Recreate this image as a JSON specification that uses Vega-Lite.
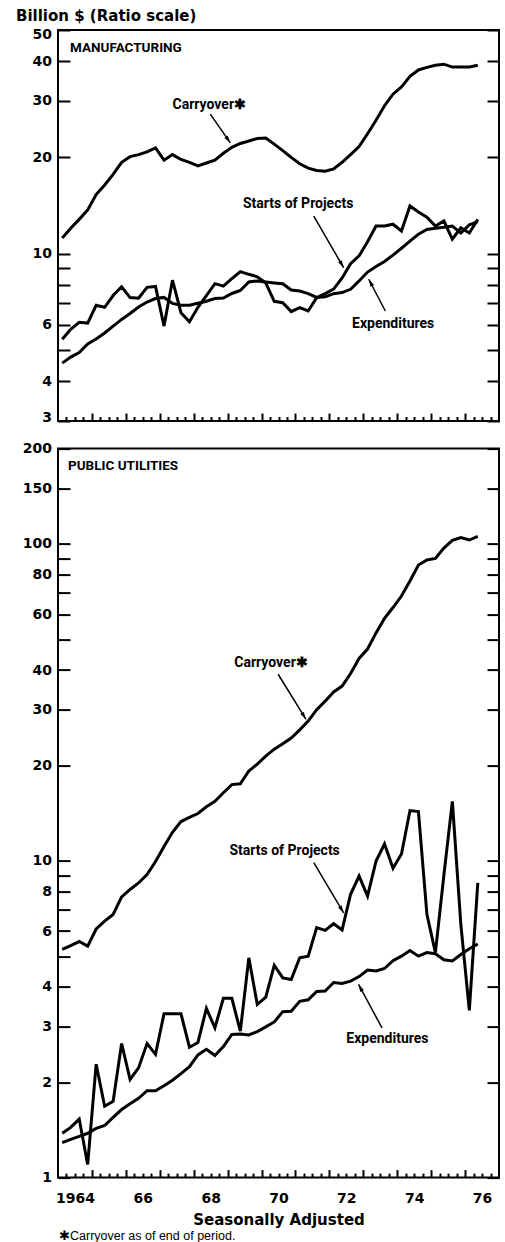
{
  "$schema": "https://vega.github.io/schema/vega-lite/v6.json",
  "background": "white",
  "padding": {"left": 14, "top": 7, "right": 4, "bottom": 0},
  "bounds": "flush",
  "spacing": 27.6,
  "config": {
    "view": {"stroke": "black", "strokeWidth": 2},
    "axis": {"domain": false, "grid": false, "tickColor": "black", "tickWidth": 2, "labelColor": "black", "labelFont": "DejaVu Sans", "labelFontWeight": "bold", "labelFontSize": 14, "labelOverlap": false, "titleColor": "black", "titleFont": "DejaVu Sans", "titleFontWeight": "bold", "titleFontSize": 15}
  },
  "datasets": {
    "top": [
      {"t":1964.125,"s":"C","v":11.2},{"t":1964.375,"s":"C","v":12.0},{"t":1964.625,"s":"C","v":12.8},{"t":1964.875,"s":"C","v":13.7},
      {"t":1965.125,"s":"C","v":15.3},{"t":1965.375,"s":"C","v":16.4},{"t":1965.625,"s":"C","v":17.7},{"t":1965.875,"s":"C","v":19.3},
      {"t":1966.125,"s":"C","v":20.1},{"t":1966.375,"s":"C","v":20.4},{"t":1966.625,"s":"C","v":20.8},{"t":1966.875,"s":"C","v":21.4},
      {"t":1967.125,"s":"C","v":19.6},{"t":1967.375,"s":"C","v":20.4},{"t":1967.625,"s":"C","v":19.7},{"t":1967.875,"s":"C","v":19.3},
      {"t":1968.125,"s":"C","v":18.8},{"t":1968.375,"s":"C","v":19.2},{"t":1968.625,"s":"C","v":19.6},{"t":1968.875,"s":"C","v":20.6},
      {"t":1969.125,"s":"C","v":21.5},{"t":1969.375,"s":"C","v":22.1},{"t":1969.625,"s":"C","v":22.5},{"t":1969.875,"s":"C","v":22.9},
      {"t":1970.125,"s":"C","v":23.0},{"t":1970.375,"s":"C","v":22.0},{"t":1970.625,"s":"C","v":21.0},{"t":1970.875,"s":"C","v":20.0},
      {"t":1971.125,"s":"C","v":19.1},{"t":1971.375,"s":"C","v":18.5},{"t":1971.625,"s":"C","v":18.2},{"t":1971.875,"s":"C","v":18.1},
      {"t":1972.125,"s":"C","v":18.4},{"t":1972.375,"s":"C","v":19.3},{"t":1972.625,"s":"C","v":20.4},{"t":1972.875,"s":"C","v":21.6},
      {"t":1973.125,"s":"C","v":23.7},{"t":1973.375,"s":"C","v":26.1},{"t":1973.625,"s":"C","v":29.0},{"t":1973.875,"s":"C","v":31.5},
      {"t":1974.125,"s":"C","v":33.2},{"t":1974.375,"s":"C","v":35.8},{"t":1974.625,"s":"C","v":37.5},{"t":1974.875,"s":"C","v":38.2},
      {"t":1975.125,"s":"C","v":38.8},{"t":1975.375,"s":"C","v":39.1},{"t":1975.625,"s":"C","v":38.3},{"t":1975.875,"s":"C","v":38.3},
      {"t":1976.125,"s":"C","v":38.3},{"t":1976.375,"s":"C","v":38.8},
      {"t":1964.125,"s":"S","v":5.4},{"t":1964.375,"s":"S","v":5.8},{"t":1964.625,"s":"S","v":6.1},{"t":1964.875,"s":"S","v":6.07},
      {"t":1965.125,"s":"S","v":6.9},{"t":1965.375,"s":"S","v":6.8},{"t":1965.625,"s":"S","v":7.4},{"t":1965.875,"s":"S","v":7.88},
      {"t":1966.125,"s":"S","v":7.29},{"t":1966.375,"s":"S","v":7.26},{"t":1966.625,"s":"S","v":7.85},{"t":1966.875,"s":"S","v":7.9},
      {"t":1967.125,"s":"S","v":5.94},{"t":1967.375,"s":"S","v":8.26},{"t":1967.625,"s":"S","v":6.54},{"t":1967.875,"s":"S","v":6.13},
      {"t":1968.125,"s":"S","v":6.8},{"t":1968.375,"s":"S","v":7.4},{"t":1968.625,"s":"S","v":8.06},{"t":1968.875,"s":"S","v":7.92},
      {"t":1969.125,"s":"S","v":8.35},{"t":1969.375,"s":"S","v":8.79},{"t":1969.625,"s":"S","v":8.62},{"t":1969.875,"s":"S","v":8.47},
      {"t":1970.125,"s":"S","v":8.1},{"t":1970.375,"s":"S","v":7.1},{"t":1970.625,"s":"S","v":7.03},{"t":1970.875,"s":"S","v":6.59},
      {"t":1971.125,"s":"S","v":6.78},{"t":1971.375,"s":"S","v":6.62},{"t":1971.625,"s":"S","v":7.29},{"t":1971.875,"s":"S","v":7.5},
      {"t":1972.125,"s":"S","v":7.75},{"t":1972.375,"s":"S","v":8.4},{"t":1972.625,"s":"S","v":9.3},{"t":1972.875,"s":"S","v":9.84},
      {"t":1973.125,"s":"S","v":10.9},{"t":1973.375,"s":"S","v":12.2},{"t":1973.625,"s":"S","v":12.2},{"t":1973.875,"s":"S","v":12.36},
      {"t":1974.125,"s":"S","v":11.77},{"t":1974.375,"s":"S","v":14.1},{"t":1974.625,"s":"S","v":13.5},{"t":1974.875,"s":"S","v":13.0},
      {"t":1975.125,"s":"S","v":12.2},{"t":1975.375,"s":"S","v":12.65},{"t":1975.625,"s":"S","v":11.1},{"t":1975.875,"s":"S","v":12.05},
      {"t":1976.125,"s":"S","v":11.6},{"t":1976.375,"s":"S","v":12.8},
      {"t":1964.125,"s":"E","v":4.55},{"t":1964.375,"s":"E","v":4.75},{"t":1964.625,"s":"E","v":4.91},{"t":1964.875,"s":"E","v":5.22},
      {"t":1965.125,"s":"E","v":5.41},{"t":1965.375,"s":"E","v":5.65},{"t":1965.625,"s":"E","v":5.94},{"t":1965.875,"s":"E","v":6.23},
      {"t":1966.125,"s":"E","v":6.5},{"t":1966.375,"s":"E","v":6.81},{"t":1966.625,"s":"E","v":7.06},{"t":1966.875,"s":"E","v":7.24},
      {"t":1967.125,"s":"E","v":7.3},{"t":1967.375,"s":"E","v":6.99},{"t":1967.625,"s":"E","v":6.9},{"t":1967.875,"s":"E","v":6.9},
      {"t":1968.125,"s":"E","v":7.0},{"t":1968.375,"s":"E","v":7.1},{"t":1968.625,"s":"E","v":7.24},{"t":1968.875,"s":"E","v":7.27},
      {"t":1969.125,"s":"E","v":7.51},{"t":1969.375,"s":"E","v":7.67},{"t":1969.625,"s":"E","v":8.16},{"t":1969.875,"s":"E","v":8.22},
      {"t":1970.125,"s":"E","v":8.16},{"t":1970.375,"s":"E","v":8.1},{"t":1970.625,"s":"E","v":8.05},{"t":1970.875,"s":"E","v":7.7},
      {"t":1971.125,"s":"E","v":7.64},{"t":1971.375,"s":"E","v":7.5},{"t":1971.625,"s":"E","v":7.3},{"t":1971.875,"s":"E","v":7.33},
      {"t":1972.125,"s":"E","v":7.5},{"t":1972.375,"s":"E","v":7.56},{"t":1972.625,"s":"E","v":7.74},{"t":1972.875,"s":"E","v":8.22},
      {"t":1973.125,"s":"E","v":8.76},{"t":1973.375,"s":"E","v":9.12},{"t":1973.625,"s":"E","v":9.45},{"t":1973.875,"s":"E","v":9.9},
      {"t":1974.125,"s":"E","v":10.4},{"t":1974.375,"s":"E","v":10.95},{"t":1974.625,"s":"E","v":11.5},{"t":1974.875,"s":"E","v":11.9},
      {"t":1975.125,"s":"E","v":12.0},{"t":1975.375,"s":"E","v":12.1},{"t":1975.625,"s":"E","v":12.2},{"t":1975.875,"s":"E","v":11.6},
      {"t":1976.125,"s":"E","v":12.3},{"t":1976.375,"s":"E","v":12.6}
    ],
    "bot": [
      {"t":1964.125,"s":"C","v":5.25},{"t":1964.375,"s":"C","v":5.4},{"t":1964.625,"s":"C","v":5.56},{"t":1964.875,"s":"C","v":5.38},
      {"t":1965.125,"s":"C","v":6.09},{"t":1965.375,"s":"C","v":6.45},{"t":1965.625,"s":"C","v":6.77},{"t":1965.875,"s":"C","v":7.69},
      {"t":1966.125,"s":"C","v":8.12},{"t":1966.375,"s":"C","v":8.51},{"t":1966.625,"s":"C","v":9.05},{"t":1966.875,"s":"C","v":9.95},
      {"t":1967.125,"s":"C","v":11.1},{"t":1967.375,"s":"C","v":12.3},{"t":1967.625,"s":"C","v":13.3},{"t":1967.875,"s":"C","v":13.7},
      {"t":1968.125,"s":"C","v":14.1},{"t":1968.375,"s":"C","v":14.8},{"t":1968.625,"s":"C","v":15.4},{"t":1968.875,"s":"C","v":16.4},
      {"t":1969.125,"s":"C","v":17.4},{"t":1969.375,"s":"C","v":17.5},{"t":1969.625,"s":"C","v":19.2},{"t":1969.875,"s":"C","v":20.2},
      {"t":1970.125,"s":"C","v":21.4},{"t":1970.375,"s":"C","v":22.5},{"t":1970.625,"s":"C","v":23.4},{"t":1970.875,"s":"C","v":24.4},
      {"t":1971.125,"s":"C","v":25.9},{"t":1971.375,"s":"C","v":27.6},{"t":1971.625,"s":"C","v":30.0},{"t":1971.875,"s":"C","v":31.9},
      {"t":1972.125,"s":"C","v":34.1},{"t":1972.375,"s":"C","v":35.6},{"t":1972.625,"s":"C","v":39.0},{"t":1972.875,"s":"C","v":43.5},
      {"t":1973.125,"s":"C","v":46.6},{"t":1973.375,"s":"C","v":52.4},{"t":1973.625,"s":"C","v":58.2},{"t":1973.875,"s":"C","v":63.0},
      {"t":1974.125,"s":"C","v":68.5},{"t":1974.375,"s":"C","v":76.4},{"t":1974.625,"s":"C","v":85.8},{"t":1974.875,"s":"C","v":89.0},
      {"t":1975.125,"s":"C","v":90.0},{"t":1975.375,"s":"C","v":97.1},{"t":1975.625,"s":"C","v":102.7},{"t":1975.875,"s":"C","v":104.7},
      {"t":1976.125,"s":"C","v":102.9},{"t":1976.375,"s":"C","v":105.6},
      {"t":1964.125,"s":"S","v":1.38},{"t":1964.375,"s":"S","v":1.44},{"t":1964.625,"s":"S","v":1.53},{"t":1964.875,"s":"S","v":1.1},
      {"t":1965.125,"s":"S","v":2.28},{"t":1965.375,"s":"S","v":1.68},{"t":1965.625,"s":"S","v":1.74},{"t":1965.875,"s":"S","v":2.65},
      {"t":1966.125,"s":"S","v":2.04},{"t":1966.375,"s":"S","v":2.22},{"t":1966.625,"s":"S","v":2.65},{"t":1966.875,"s":"S","v":2.45},
      {"t":1967.125,"s":"S","v":3.29},{"t":1967.375,"s":"S","v":3.29},{"t":1967.625,"s":"S","v":3.29},{"t":1967.875,"s":"S","v":2.58},
      {"t":1968.125,"s":"S","v":2.67},{"t":1968.375,"s":"S","v":3.42},{"t":1968.625,"s":"S","v":2.97},{"t":1968.875,"s":"S","v":3.68},
      {"t":1969.125,"s":"S","v":3.68},{"t":1969.375,"s":"S","v":2.9},{"t":1969.625,"s":"S","v":4.94},{"t":1969.875,"s":"S","v":3.52},
      {"t":1970.125,"s":"S","v":3.71},{"t":1970.375,"s":"S","v":4.68},{"t":1970.625,"s":"S","v":4.27},{"t":1970.875,"s":"S","v":4.22},
      {"t":1971.125,"s":"S","v":4.94},{"t":1971.375,"s":"S","v":5.0},{"t":1971.625,"s":"S","v":6.15},{"t":1971.875,"s":"S","v":6.03},
      {"t":1972.125,"s":"S","v":6.33},{"t":1972.375,"s":"S","v":6.05},{"t":1972.625,"s":"S","v":7.84},{"t":1972.875,"s":"S","v":8.95},
      {"t":1973.125,"s":"S","v":7.74},{"t":1973.375,"s":"S","v":9.98},{"t":1973.625,"s":"S","v":11.3},{"t":1973.875,"s":"S","v":9.47},
      {"t":1974.125,"s":"S","v":10.5},{"t":1974.375,"s":"S","v":14.4},{"t":1974.625,"s":"S","v":14.3},{"t":1974.875,"s":"S","v":6.78},
      {"t":1975.125,"s":"S","v":5.13},{"t":1975.375,"s":"S","v":9.0},{"t":1975.625,"s":"S","v":15.4},{"t":1975.875,"s":"S","v":6.3},
      {"t":1976.125,"s":"S","v":3.37},{"t":1976.375,"s":"S","v":8.52},
      {"t":1964.125,"s":"E","v":1.29},{"t":1964.375,"s":"E","v":1.32},{"t":1964.625,"s":"E","v":1.35},{"t":1964.875,"s":"E","v":1.38},
      {"t":1965.125,"s":"E","v":1.43},{"t":1965.375,"s":"E","v":1.46},{"t":1965.625,"s":"E","v":1.55},{"t":1965.875,"s":"E","v":1.64},
      {"t":1966.125,"s":"E","v":1.71},{"t":1966.375,"s":"E","v":1.78},{"t":1966.625,"s":"E","v":1.88},{"t":1966.875,"s":"E","v":1.88},
      {"t":1967.125,"s":"E","v":1.95},{"t":1967.375,"s":"E","v":2.03},{"t":1967.625,"s":"E","v":2.13},{"t":1967.875,"s":"E","v":2.24},
      {"t":1968.125,"s":"E","v":2.44},{"t":1968.375,"s":"E","v":2.54},{"t":1968.625,"s":"E","v":2.43},{"t":1968.875,"s":"E","v":2.59},
      {"t":1969.125,"s":"E","v":2.83},{"t":1969.375,"s":"E","v":2.84},{"t":1969.625,"s":"E","v":2.82},{"t":1969.875,"s":"E","v":2.89},
      {"t":1970.125,"s":"E","v":2.99},{"t":1970.375,"s":"E","v":3.1},{"t":1970.625,"s":"E","v":3.34},{"t":1970.875,"s":"E","v":3.35},
      {"t":1971.125,"s":"E","v":3.6},{"t":1971.375,"s":"E","v":3.64},{"t":1971.625,"s":"E","v":3.87},{"t":1971.875,"s":"E","v":3.88},
      {"t":1972.125,"s":"E","v":4.13},{"t":1972.375,"s":"E","v":4.1},{"t":1972.625,"s":"E","v":4.17},{"t":1972.875,"s":"E","v":4.31},
      {"t":1973.125,"s":"E","v":4.52},{"t":1973.375,"s":"E","v":4.49},{"t":1973.625,"s":"E","v":4.57},{"t":1973.875,"s":"E","v":4.84},
      {"t":1974.125,"s":"E","v":5.0},{"t":1974.375,"s":"E","v":5.21},{"t":1974.625,"s":"E","v":5.0},{"t":1974.875,"s":"E","v":5.13},
      {"t":1975.125,"s":"E","v":5.09},{"t":1975.375,"s":"E","v":4.87},{"t":1975.625,"s":"E","v":4.83},{"t":1975.875,"s":"E","v":5.06},
      {"t":1976.125,"s":"E","v":5.28},{"t":1976.375,"s":"E","v":5.46}
    ]
  },
  "vconcat": [
    {
      "width": 441,
      "height": 391,
      "resolve": {"axis": {"x": "independent", "y": "independent"}},
      "layer": [
        {
          "data": {"name": "top"},
          "mark": {"type": "line", "color": "black", "strokeWidth": 3},
          "encoding": {
            "x": {"field": "t", "type": "quantitative", "scale": {"domain": [1964, 1977], "nice": false, "zero": false},
              "axis": {"orient": "bottom", "values": [1964.25,1964.5,1964.75,1965.25,1965.5,1965.75,1966.25,1966.5,1966.75,1967.25,1967.5,1967.75,1968.25,1968.5,1968.75,1969.25,1969.5,1969.75,1970.25,1970.5,1970.75,1971.25,1971.5,1971.75,1972.25,1972.5,1972.75,1973.25,1973.5,1973.75,1974.25,1974.5,1974.75,1975.25,1975.5,1975.75,1976.25,1976.5,1976.75], "labels": false, "offset": -4.5, "tickSize": 4.5, "title": null}},
            "y": {"field": "v", "type": "quantitative", "scale": {"type": "log", "domain": [3, 50], "nice": false},
              "axis": {"orient": "left", "values": [3,4,5,6,7,8,9,10,20,30,40,50], "labelExpr": "indexof([3,4,6,10,20,30,40,50], datum.value) >= 0 ? format(datum.value, 'd') : ''", "offset": -12, "tickSize": 12, "labelPadding": 6.5, "labelFlush": true, "labelFlushOffset": 3, "title": "Billion $ (Ratio scale)", "titleAngle": 0, "titleAlign": "left", "titleBaseline": "alphabetic", "titleX": -54.5, "titleY": -10}},
            "detail": {"field": "s"}
          }
        },
        {
          "data": {"values": [
            {"t": 1968.49, "v": 27.3, "t2": 1969.08, "v2": 22.2},
            {"t": 1971.54, "v": 13.1, "t2": 1972.42, "v2": 9.04},
            {"t": 1973.65, "v": 6.62, "t2": 1973.16, "v2": 8.32}
          ]},
          "mark": {"type": "rule", "color": "black", "strokeWidth": 1.5},
          "encoding": {
            "x": {"field": "t", "type": "quantitative", "scale": {"domain": [1964, 1977], "nice": false, "zero": false},
              "axis": {"orient": "bottom", "values": [1965,1966,1967,1968,1969,1970,1971,1972,1973,1974,1975,1976], "labels": false, "offset": -8, "tickSize": 8, "title": null}},
            "y": {"field": "v", "type": "quantitative", "scale": {"type": "log", "domain": [3, 50], "nice": false},
              "axis": {"orient": "right", "values": [3,4,5,6,7,8,9,10,20,30,40,50], "labels": false, "offset": -12, "tickSize": 12, "title": null}},
            "x2": {"field": "t2"},
            "y2": {"field": "v2"}
          }
        },
        {
          "data": {"values": [
            {"t": 1969.08, "v": 22.2, "ang": 145},
            {"t": 1972.42, "v": 9.04, "ang": 150},
            {"t": 1973.16, "v": 8.32, "ang": -28}
          ]},
          "mark": {"type": "point", "shape": "M0,0L0.55,2L-0.55,2Z", "filled": true, "color": "black", "size": 56, "opacity": 1},
          "encoding": {
            "x": {"field": "t", "type": "quantitative", "scale": {"domain": [1964, 1977], "nice": false, "zero": false}, "axis": null},
            "y": {"field": "v", "type": "quantitative", "scale": {"type": "log", "domain": [3, 50], "nice": false}, "axis": null},
            "angle": {"field": "ang", "type": "quantitative", "scale": null}
          }
        },
        {
          "data": {"values": [
            {"t": 1964.354, "v": 43.9, "label": "MANUFACTURING"}
          ]},
          "mark": {"type": "text", "align": "left", "baseline": "middle", "font": "Roboto", "fontWeight": "bold", "fontSize": 13.5, "color": "black"},
          "encoding": {
            "x": {"field": "t", "type": "quantitative", "scale": {"domain": [1964, 1977], "nice": false, "zero": false}, "axis": null},
            "y": {"field": "v", "type": "quantitative", "scale": {"type": "log", "domain": [3, 50], "nice": false}, "axis": null},
            "text": {"field": "label"}
          }
        },
        {
          "data": {"values": [
            {"t": 1968.46, "v": 29.1, "label": "Carryover✱"},
            {"t": 1971.08, "v": 14.3, "label": "Starts of Projects"},
            {"t": 1973.88, "v": 6.04, "label": "Expenditures"}
          ]},
          "mark": {"type": "text", "align": "center", "baseline": "middle", "font": "Roboto", "fontWeight": "bold", "fontSize": 14, "color": "black"},
          "encoding": {
            "x": {"field": "t", "type": "quantitative", "scale": {"domain": [1964, 1977], "nice": false, "zero": false}, "axis": null},
            "y": {"field": "v", "type": "quantitative", "scale": {"type": "log", "domain": [3, 50], "nice": false}, "axis": null},
            "text": {"field": "label"}
          }
        }
      ]
    },
    {
      "width": 441,
      "height": 729,
      "resolve": {"axis": {"x": "independent", "y": "independent"}},
      "layer": [
        {
          "data": {"name": "bot"},
          "mark": {"type": "line", "color": "black", "strokeWidth": 3},
          "encoding": {
            "x": {"field": "t", "type": "quantitative", "scale": {"domain": [1964, 1977], "nice": false, "zero": false},
              "axis": {"orient": "bottom", "values": [1964.25,1964.5,1964.75,1965.25,1965.5,1965.75,1966.25,1966.5,1966.75,1967.25,1967.5,1967.75,1968.25,1968.5,1968.75,1969.25,1969.5,1969.75,1970.25,1970.5,1970.75,1971.25,1971.5,1971.75,1972.25,1972.5,1972.75,1973.25,1973.5,1973.75,1974.25,1974.5,1974.75,1975.25,1975.5,1975.75,1976.25,1976.5,1976.75], "labels": false, "offset": -4.5, "tickSize": 4.5, "title": null}},
            "y": {"field": "v", "type": "quantitative", "scale": {"type": "log", "domain": [1, 200], "nice": false},
              "axis": {"orient": "left", "values": [1,2,3,4,5,6,7,8,9,10,20,30,40,50,60,70,80,90,100,150,200], "labelExpr": "indexof([1,2,3,4,6,8,10,20,30,40,60,80,100,150,200], datum.value) >= 0 ? format(datum.value, 'd') : ''", "offset": -12, "tickSize": 12, "labelPadding": 6.5, "labelFlush": false, "title": null}},
            "detail": {"field": "s"}
          }
        },
        {
          "data": {"values": [
            {"t": 1970.49, "v": 38.8, "t2": 1971.31, "v2": 27.96},
            {"t": 1971.54, "v": 9.86, "t2": 1972.42, "v2": 6.85},
            {"t": 1973.55, "v": 2.97, "t2": 1972.86, "v2": 4.07}
          ]},
          "mark": {"type": "rule", "color": "black", "strokeWidth": 1.5},
          "encoding": {
            "x": {"field": "t", "type": "quantitative", "scale": {"domain": [1964, 1977], "nice": false, "zero": false},
              "axis": {"orient": "bottom", "values": [1965,1966,1967,1968,1969,1970,1971,1972,1973,1974,1975,1976], "labels": false, "offset": -8, "tickSize": 8, "title": "✱Carryover as of end of period.", "titleFont": "Liberation Sans, sans-serif", "titleFontWeight": "normal", "titleFontSize": 12.5, "titleAlign": "left", "titleBaseline": "alphabetic", "titleX": 0.5, "titleY": 69.9}},
            "y": {"field": "v", "type": "quantitative", "scale": {"type": "log", "domain": [1, 200], "nice": false},
              "axis": {"orient": "right", "values": [1,2,3,4,5,6,7,8,9,10,20,30,40,50,60,70,80,90,100,150,200], "labels": false, "offset": -12, "tickSize": 12, "title": null}},
            "x2": {"field": "t2"},
            "y2": {"field": "v2"}
          }
        },
        {
          "data": {"values": [
            {"t": 1971.31, "v": 27.96, "ang": 148},
            {"t": 1972.42, "v": 6.85, "ang": 149},
            {"t": 1972.86, "v": 4.07, "ang": -28}
          ]},
          "mark": {"type": "point", "shape": "M0,0L0.55,2L-0.55,2Z", "filled": true, "color": "black", "size": 56, "opacity": 1},
          "encoding": {
            "x": {"field": "t", "type": "quantitative", "scale": {"domain": [1964, 1977], "nice": false, "zero": false}, "axis": null},
            "y": {"field": "v", "type": "quantitative", "scale": {"type": "log", "domain": [1, 200], "nice": false}, "axis": null},
            "angle": {"field": "ang", "type": "quantitative", "scale": null}
          }
        },
        {
          "data": {"values": [
            {"t": 1964.295, "v": 176.2, "label": "PUBLIC UTILITIES"}
          ]},
          "mark": {"type": "text", "align": "left", "baseline": "middle", "font": "Roboto", "fontWeight": "bold", "fontSize": 13.5, "color": "black"},
          "encoding": {
            "x": {"field": "t", "type": "quantitative", "scale": {"domain": [1964, 1977], "nice": false, "zero": false},
              "axis": {"orient": "bottom", "values": [1964.5,1966.5,1968.5,1970.5,1972.5,1974.5,1976.5], "ticks": false, "labelPadding": 14, "labelFlush": false, "labelBaseline": "top", "labelExpr": "floor(datum.value) == 1964 ? '1964' : substring(toString(floor(datum.value)), 2, 4)", "title": "Seasonally Adjusted", "titleAlign": "center", "titleBaseline": "alphabetic", "titleX": 220.5, "titleY": 46.7}},
            "y": {"field": "v", "type": "quantitative", "scale": {"type": "log", "domain": [1, 200], "nice": false}, "axis": null},
            "text": {"field": "label"}
          }
        },
        {
          "data": {"values": [
            {"t": 1970.28, "v": 42.2, "label": "Carryover✱"},
            {"t": 1970.68, "v": 10.7, "label": "Starts of Projects"},
            {"t": 1973.71, "v": 2.73, "label": "Expenditures"}
          ]},
          "mark": {"type": "text", "align": "center", "baseline": "middle", "font": "Roboto", "fontWeight": "bold", "fontSize": 14, "color": "black"},
          "encoding": {
            "x": {"field": "t", "type": "quantitative", "scale": {"domain": [1964, 1977], "nice": false, "zero": false}, "axis": null},
            "y": {"field": "v", "type": "quantitative", "scale": {"type": "log", "domain": [1, 200], "nice": false}, "axis": null},
            "text": {"field": "label"}
          }
        }
      ]
    }
  ]
}
